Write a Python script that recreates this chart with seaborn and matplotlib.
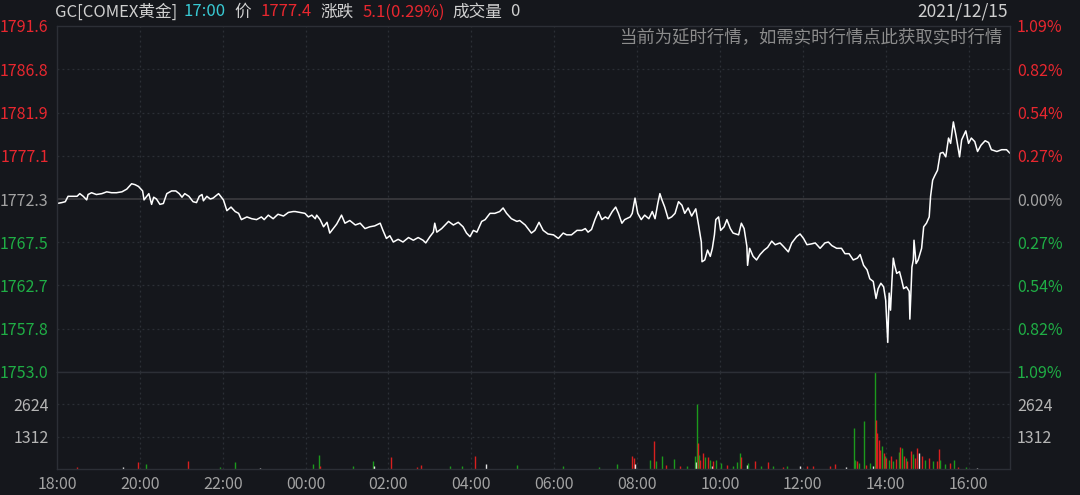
import matplotlib
matplotlib.use("Agg")
import matplotlib.pyplot as plt
import seaborn as sns
import pandas as pd

# ---------------- data ----------------
minutes = [0, 7, 12, 16, 24, 29, 33, 38, 43, 45, 50, 57, 65, 72, 79, 86, 94, 101, 108, 113,
           118, 124, 126, 130, 133, 137, 140, 144, 149, 154, 159, 166, 172, 177, 181, 185, 191, 197, 202, 206,
           210, 212, 217, 222, 226, 234, 237, 241, 246, 252, 258, 263, 267, 275, 282, 289, 296, 300, 306, 313,
           320, 328, 335, 342, 345, 359, 364, 369, 374, 376, 381, 386, 391, 395, 400, 405, 412, 417, 424, 432,
           439, 446, 453, 460, 468, 472, 477, 482, 487, 494, 501, 509, 516, 523, 530, 534, 540, 545, 547, 550,
           557, 562, 567, 574, 581, 588, 593, 598, 603, 608, 615, 620, 627, 634, 641, 646, 651, 658, 666, 670,
           678, 682, 687, 692, 698, 704, 711, 719, 726, 733, 738, 745, 753, 760, 765, 769, 774, 779, 784, 789,
           794, 798, 804, 809, 813, 818, 822, 830, 833, 837, 841, 846, 851, 857, 862, 866, 870, 873, 876, 880,
           885, 890, 895, 900, 905, 909, 914, 919, 925, 929, 933, 934, 938, 942, 946, 949, 952, 954, 958, 961,
           966, 970, 975, 979, 987, 991, 995, 999, 1000, 1003, 1008, 1013, 1018, 1024, 1029, 1035, 1040, 1047, 1052, 1059,
           1064, 1071, 1076, 1081, 1086, 1093, 1098, 1105, 1112, 1117, 1122, 1129, 1136, 1141, 1147, 1153, 1159, 1163, 1168, 1173,
           1177, 1182, 1186, 1189, 1193, 1197, 1200, 1202, 1203, 1205, 1207, 1209, 1211, 1213, 1216, 1220, 1223, 1226, 1230, 1234,
           1235, 1238, 1240, 1241, 1244, 1247, 1252, 1255, 1259, 1263, 1265, 1268, 1271, 1275, 1279, 1283, 1287, 1291, 1294, 1298,
           1302, 1307, 1310, 1316, 1320, 1324, 1329, 1333, 1338, 1344, 1349, 1353, 1361, 1368, 1375, 1380]
prices = [1771.8, 1771.9, 1772.0, 1772.6, 1772.6, 1772.6, 1772.9, 1772.6, 1772.2, 1772.8, 1773.0, 1772.8, 1772.9, 1773.1, 1773.0, 1773.0, 1773.1, 1773.4, 1774.0, 1773.9,
          1773.7, 1773.2, 1772.2, 1772.6, 1772.9, 1771.7, 1772.5, 1772.3, 1771.7, 1771.8, 1772.9, 1773.2, 1773.2, 1772.9, 1772.5, 1772.9, 1772.6, 1772.0, 1771.9, 1772.6,
          1772.8, 1772.1, 1772.6, 1772.3, 1772.4, 1772.9, 1772.6, 1772.2, 1771.0, 1771.4, 1770.9, 1770.7, 1770.0, 1770.3, 1770.1, 1770.0, 1770.3, 1770.0, 1770.5, 1770.1,
          1770.6, 1770.4, 1770.8, 1770.9, 1770.9, 1770.7, 1770.3, 1770.5, 1770.1, 1770.5, 1770.0, 1769.2, 1769.7, 1768.5, 1769.0, 1769.5, 1770.5, 1769.6, 1769.9, 1769.4,
          1769.6, 1769.0, 1769.2, 1769.3, 1769.6, 1768.8, 1767.9, 1768.2, 1767.5, 1767.8, 1767.5, 1768.0, 1767.7, 1768.0, 1767.7, 1767.4, 1768.1, 1768.6, 1769.6, 1768.6,
          1769.0, 1769.4, 1769.8, 1769.4, 1769.7, 1769.2, 1768.5, 1768.1, 1768.8, 1768.6, 1769.8, 1770.0, 1770.7, 1770.7, 1770.9, 1771.3, 1770.7, 1770.1, 1769.8, 1769.9,
          1769.4, 1769.0, 1768.5, 1768.8, 1769.7, 1768.8, 1768.4, 1768.3, 1767.9, 1768.5, 1768.3, 1768.3, 1768.8, 1768.8, 1769.0, 1768.6, 1768.9, 1770.0, 1770.9, 1770.0,
          1770.3, 1770.1, 1770.9, 1771.4, 1770.7, 1769.6, 1770.0, 1770.3, 1770.7, 1772.4, 1770.7, 1770.0, 1770.5, 1770.1, 1770.9, 1770.1, 1771.8, 1772.9, 1772.2, 1771.4,
          1770.1, 1770.3, 1770.7, 1772.0, 1771.6, 1770.7, 1771.3, 1770.4, 1771.2, 1769.4, 1767.5, 1765.3, 1765.5, 1766.6, 1765.9, 1766.8, 1768.3, 1770.0, 1770.3, 1768.8,
          1769.2, 1770.0, 1769.0, 1768.5, 1768.3, 1769.6, 1769.0, 1767.0, 1764.9, 1766.8, 1765.9, 1765.5, 1766.1, 1766.6, 1766.9, 1767.6, 1767.2, 1767.4, 1767.0, 1766.4,
          1767.4, 1768.1, 1768.4, 1767.9, 1767.2, 1767.3, 1767.4, 1766.8, 1767.4, 1767.5, 1767.1, 1766.8, 1766.8, 1766.2, 1766.2, 1765.5, 1765.7, 1766.1, 1764.9, 1764.4,
          1763.4, 1763.1, 1761.2, 1762.3, 1762.9, 1762.5, 1761.0, 1758.0, 1756.3, 1761.8, 1759.9, 1763.1, 1765.7, 1764.9, 1764.0, 1764.2, 1763.3, 1762.3, 1762.5, 1762.0,
          1758.9, 1764.7, 1765.5, 1767.7, 1765.1, 1765.5, 1766.8, 1769.2, 1769.6, 1770.3, 1772.6, 1774.4, 1774.9, 1775.5, 1777.4, 1777.5, 1777.0, 1779.1, 1778.5, 1780.9,
          1779.3, 1777.0, 1778.9, 1779.9, 1778.5, 1779.1, 1778.7, 1777.6, 1778.3, 1778.8, 1778.6, 1777.8, 1777.6, 1777.8, 1777.8, 1777.4]

vol_minutes = [29, 96, 118, 129, 190, 236, 258, 294, 371, 379, 381, 429, 458, 459, 483, 521, 527, 569, 586, 605,
               621, 666, 733, 785, 811, 832, 836, 837, 859, 865, 868, 876, 882, 894, 902, 912, 924, 925, 927, 928,
               930, 931, 936, 939, 943, 946, 948, 950, 954, 962, 970, 979, 984, 989, 991, 999, 1001, 1011, 1020, 1030,
               1037, 1051, 1057, 1076, 1086, 1095, 1119, 1127, 1143, 1154, 1156, 1158, 1162, 1169, 1172, 1177, 1182, 1185, 1186, 1188,
               1190, 1192, 1194, 1197, 1199, 1201, 1205, 1208, 1211, 1215, 1219, 1221, 1224, 1226, 1229, 1231, 1237, 1239, 1242, 1246,
               1248, 1252, 1257, 1262, 1269, 1275, 1277, 1279, 1286, 1293, 1299, 1305, 1317, 1332]
vol_values = [80, 100, 270, 215, 310, 80, 270, 60, 215, 580, 135, 135, 340, 120, 470, 100, 175, 120, 120, 515,
              215, 150, 120, 100, 220, 515, 450, 200, 380, 1150, 310, 540, 150, 420, 120, 120, 515, 300, 2650, 1055,
              580, 380, 650, 500, 480, 380, 110, 310, 350, 250, 170, 130, 270, 650, 490, 170, 240, 310, 110, 270,
              110, 80, 110, 135, 110, 135, 135, 215, 80, 1665, 380, 310, 240, 1935, 170, 240, 135, 3925, 2000, 1460,
              1180, 790, 950, 650, 515, 450, 380, 515, 310, 410, 680, 890, 850, 515, 450, 310, 720, 620, 450, 850,
              650, 515, 380, 450, 310, 310, 810, 380, 220, 240, 350, 80, 80, 40]
vol_dirs = ["r", "w", "r", "g", "r", "g", "g", "w", "g", "g", "r", "g", "g", "w", "r", "r", "r", "g", "g", "r",
            "w", "g", "g", "g", "g", "r", "r", "w", "g", "r", "g", "g", "r", "g", "r", "g", "g", "w", "g", "r",
            "g", "r", "r", "g", "r", "g", "w", "r", "g", "g", "r", "g", "g", "g", "r", "w", "g", "r", "g", "r",
            "g", "r", "g", "w", "r", "r", "r", "r", "w", "g", "g", "r", "g", "g", "r", "g", "w", "g", "r", "r",
            "r", "r", "g", "r", "g", "r", "g", "r", "g", "r", "g", "r", "g", "r", "g", "r", "r", "g", "r", "r",
            "w", "r", "g", "r", "g", "r", "r", "g", "g", "r", "g", "r", "g", "w"]

price_ticks = [1791.6, 1786.8, 1781.9, 1777.1, 1772.3, 1767.5, 1762.7, 1757.8, 1753.0]
pct_labels = ["1.09%", "0.82%", "0.54%", "0.27%", "0.00%", "0.27%", "0.54%", "0.82%", "1.09%"]
vol_ticks = [1312, 2624]
time_ticks = [0, 120, 240, 360, 480, 600, 720, 840, 960, 1080, 1200, 1320]
time_labels = ["18:00", "20:00", "22:00", "00:00", "02:00", "04:00", "06:00",
               "08:00", "10:00", "12:00", "14:00", "16:00"]
base_price = 1772.3
header_texts = ["GC[COMEX黄金]", "17:00", "价", "1777.4", "涨跌", "5.1(0.29%)", "成交量", "0"]

# ---------------- style ----------------
BG = "#15171c"
GRID = "#2c2f36"
RED = "#e8272f"
GREEN = "#1fae45"
GRAY = "#a3a3a3"
LIGHT = "#cfcfcf"
dir_colors = {"r": "#d8201f", "g": "#1c9a1c", "w": "#e6e6e6"}
header_colors = [LIGHT, "#38c9d3", LIGHT, RED, LIGHT, RED, LIGHT, LIGHT]
TICK_FS = 11.5
HEAD_FS = 12

sns.set_style("dark")
plt.rcParams["font.family"] = ["Noto Sans CJK SC", "DejaVu Sans"]
plt.rcParams["axes.unicode_minus"] = False

W, H = 1080, 495
fig = plt.figure(figsize=(W / 100, H / 100), dpi=100, facecolor=BG)
L, R = 57 / W, 1010 / W
ax = fig.add_axes([L, 1 - 372 / H, R - L, (372 - 26) / H])
axv = fig.add_axes([L, 1 - 469 / H, R - L, (469 - 372) / H], sharex=ax)

for a in (ax, axv):
    a.set_facecolor(BG)
    for s in a.spines.values():
        s.set_color(GRID)
        s.set_linewidth(1.0)
        s.set_visible(True)
    a.grid(False)

# price line
df = pd.DataFrame({"minute": minutes, "price": prices})
sns.lineplot(data=df, x="minute", y="price", ax=ax, color="white", linewidth=1.1,
             estimator=None, sort=False)
ax.set_xlim(0, 1380)
ax.set_ylim(price_ticks[-1], price_ticks[0])
ax.set_xlabel("")
ax.set_ylabel("")

for v in price_ticks[1:-1]:
    if v == base_price:
        ax.axhline(v, color="#3c3c40", lw=1.2, zorder=0)
    else:
        ax.axhline(v, color=GRID, lw=0.9, ls=(0, (1.5, 2.5)), zorder=0)
for t in time_ticks[1:]:
    ax.axvline(t, color=GRID, lw=0.9, ls=(0, (1.5, 2.5)), zorder=0)
    axv.axvline(t, color=GRID, lw=0.9, ls=(0, (1.5, 2.5)), zorder=0)

ax.set_yticks(price_ticks)
ax.set_yticklabels([f"{v:.1f}" for v in price_ticks])
for lab, v in zip(ax.get_yticklabels(), price_ticks):
    lab.set_color(RED if v > base_price else (GRAY if v == base_price else GREEN))
ax.tick_params(axis="y", length=0, pad=6, labelsize=TICK_FS)
ax.tick_params(axis="x", length=0, labelbottom=False)

axr = ax.twinx()
axr.set_ylim(ax.get_ylim())
axr.set_yticks(price_ticks)
axr.set_yticklabels(pct_labels)
for lab, v in zip(axr.get_yticklabels(), price_ticks):
    lab.set_color(RED if v > base_price else (GRAY if v == base_price else GREEN))
axr.tick_params(axis="y", length=0, pad=5, labelsize=TICK_FS)
for s in axr.spines.values():
    s.set_visible(False)
axr.grid(False)

# volume
axv.vlines(vol_minutes, 0, vol_values, colors=[dir_colors[d] for d in vol_dirs], linewidth=1.0)
axv.set_ylim(0, 3 * vol_ticks[0])
for v in vol_ticks:
    axv.axhline(v, color=GRID, lw=0.9, ls=(0, (1.5, 2.5)), zorder=0)
axv.set_yticks(vol_ticks)
axv.set_yticklabels([str(v) for v in vol_ticks], color="#b5b5b5")
axv.tick_params(axis="y", length=0, pad=6, labelsize=TICK_FS)
axv.set_xticks(time_ticks)
axv.set_xticklabels(time_labels, color=GRAY)
axv.tick_params(axis="x", length=0, pad=5, labelsize=TICK_FS)
axv.set_xlabel("")
axv.set_ylabel("")

axvr = axv.twinx()
axvr.set_ylim(axv.get_ylim())
axvr.set_yticks(vol_ticks)
axvr.set_yticklabels([str(v) for v in vol_ticks], color="#b5b5b5")
axvr.tick_params(axis="y", length=0, pad=5, labelsize=TICK_FS)
for s in axvr.spines.values():
    s.set_visible(False)
axvr.grid(False)

# header: lay out parts one after another with measured widths
renderer = fig.canvas.get_renderer()
hy = 1 - 12 / H
x_px = 55
gaps = [6, 9, 9, 9, 9, 8, 7, 0]
for txt, c, g in zip(header_texts, header_colors, gaps):
    t = fig.text(x_px / W, hy, txt, color=c, fontsize=HEAD_FS, va="center", ha="left")
    bb = t.get_window_extent(renderer=renderer)
    x_px = bb.x1 + g
fig.text(1008 / W, hy, "2021/12/15", color=LIGHT, fontsize=12.5, va="center", ha="right")
fig.text(1002 / W, 1 - 37 / H, "当前为延时行情，如需实时行情点此获取实时行情", color="#8c8c8c",
         fontsize=12.5, va="center", ha="right")

fig.savefig("out.png", dpi=100, facecolor=BG)
